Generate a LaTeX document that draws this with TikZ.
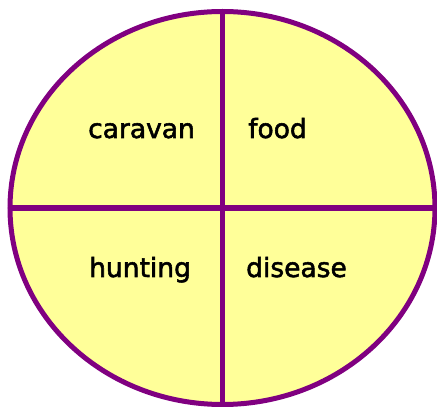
\documentclass[tikz,border=0pt]{standalone}
\usepackage{fontspec}
\setmainfont{DejaVu Sans}
\newfontfamily\labelfont{DejaVu Sans}[FakeBold=2]
\usetikzlibrary{shapes.geometric}

\definecolor{rim}{HTML}{800080}
\definecolor{pale}{HTML}{FFFF99}

\tikzset{
  part/.style={anchor=base west, font=\labelfont\fontsize{26.5}{30}\selectfont, inner sep=0pt}
}

\begin{document}
\begin{tikzpicture} [x=1pt,y=1pt]

%\draw [step=50pt, dotted, thick] (0,0) grid (437,407);
\useasboundingbox (0,0) rectangle (437,407);

\node [draw=rim, fill=pale, line width=5pt, ellipse, inner sep=0pt,
       minimum width=425pt, minimum height=393pt] (disc) at (222.5,199) {};
\draw [rim, line width=5.5pt] (disc.north) -- (disc.south);
\draw [rim, line width=5.5pt] (disc.west) -- (disc.east);

\node [part] (caravan) at (88,269) {caravan};
\node [part] (food) at (248,269) {food};
\node [part] (hunting) at (89,130) {hunting};
\node [part] (disease) at (246,130) {disease};

\end{tikzpicture}
\end{document}
